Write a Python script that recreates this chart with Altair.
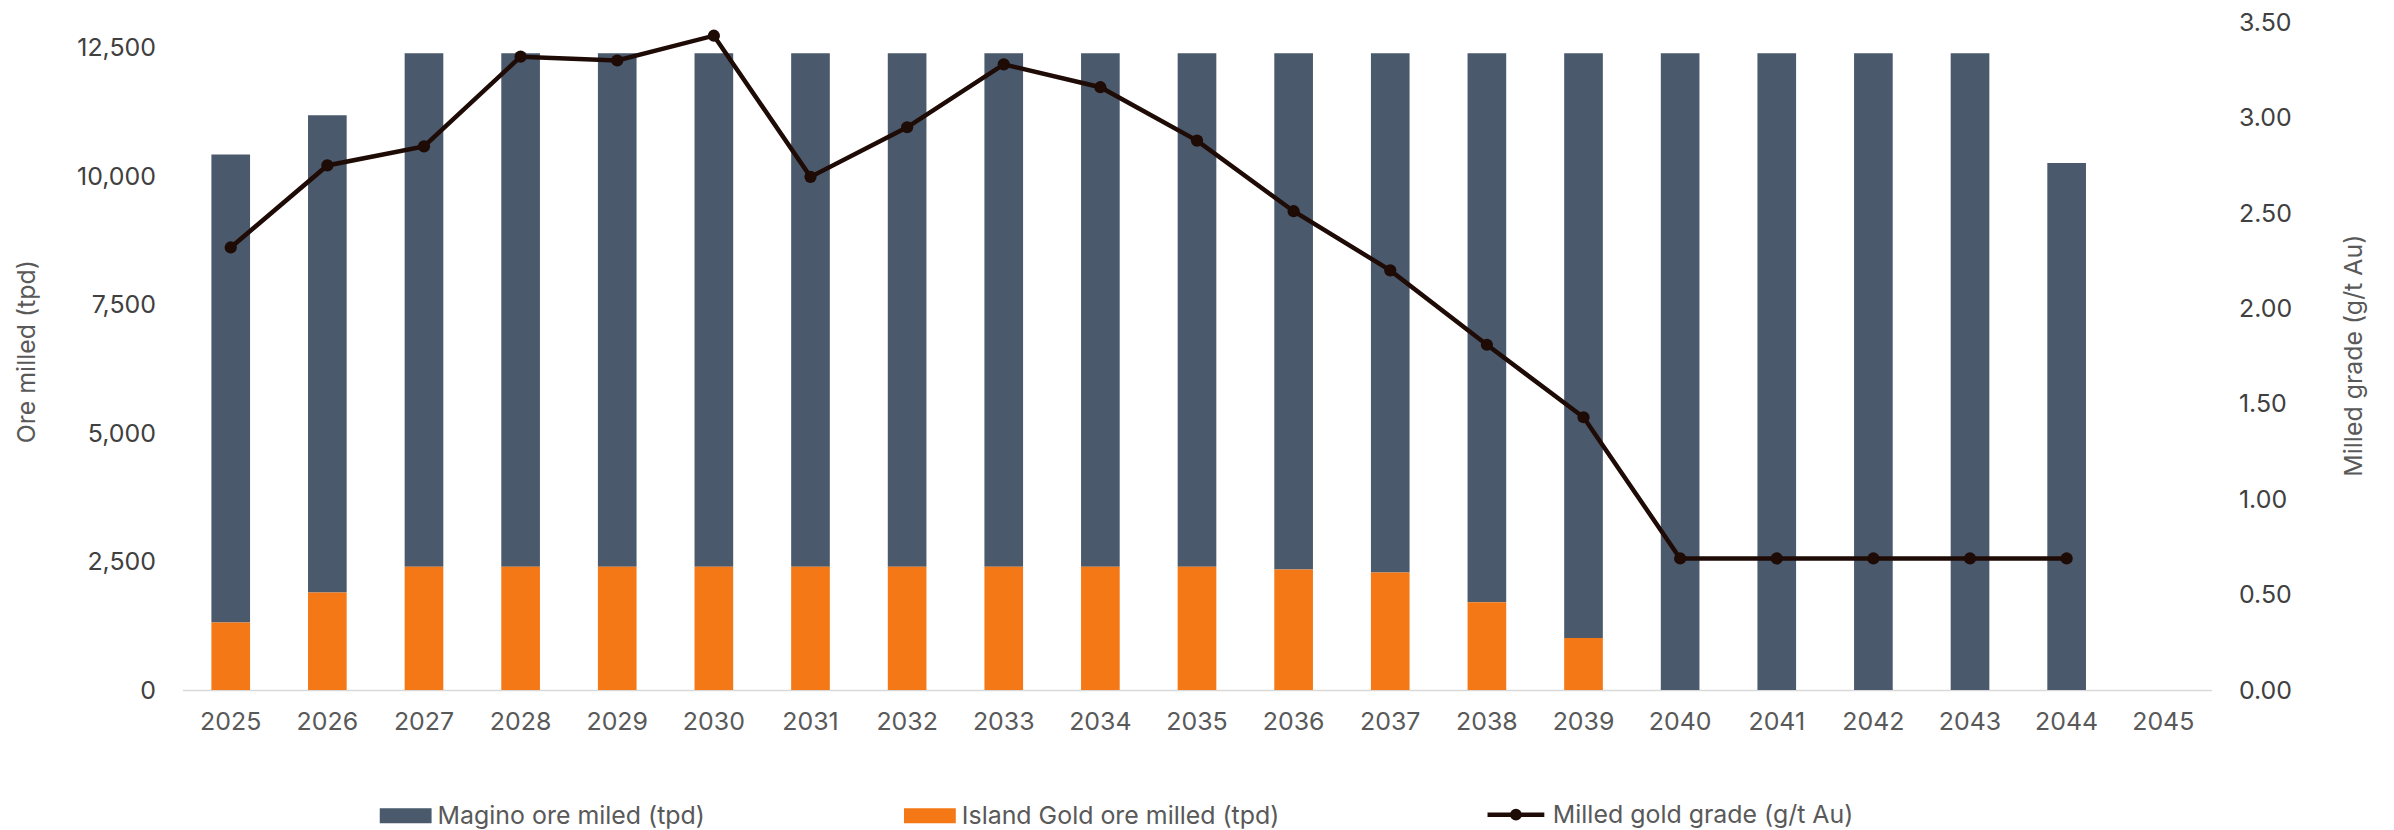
import altair as alt
import pandas as pd

# ---- data ----
years = ["2025", "2026", "2027", "2028", "2029", "2030", "2031", "2032", "2033", "2034",
         "2035", "2036", "2037", "2038", "2039", "2040", "2041", "2042", "2043", "2044", "2045"]
bar_years = ["2025", "2026", "2027", "2028", "2029", "2030", "2031", "2032", "2033", "2034",
             "2035", "2036", "2037", "2038", "2039", "2040", "2041", "2042", "2043", "2044"]
magino = [9110, 9290, 10000, 10000, 10000, 10000, 10000, 10000, 10000, 10000,
          10000, 10050, 10110, 10690, 11385, 12400, 12400, 12400, 12400, 10260]
island = [1315, 1900, 2400, 2400, 2400, 2400, 2400, 2400, 2400, 2400,
          2400, 2350, 2290, 1710, 1015, 0, 0, 0, 0, 0]
grade = [2.32, 2.75, 2.85, 3.32, 3.30, 3.43, 2.69, 2.95, 3.28, 3.16,
         2.88, 2.51, 2.20, 1.81, 1.43, 0.69, 0.69, 0.69, 0.69, 0.69]
left_ticks = [0, 2500, 5000, 7500, 10000, 12500]
right_ticks = [0, 0.5, 1.0, 1.5, 2.0, 2.5, 3.0, 3.5]

MAG = "Magino ore miled (tpd)"
ISL = "Island Gold ore milled (tpd)"
LINE = "Milled gold grade (g/t Au)"

rows = []
for y, m, i in zip(bar_years, magino, island):
    rows.append({"year": y, "series": MAG, "value": m, "order": 1})
    rows.append({"year": y, "series": ISL, "value": i, "order": 0})
bars_df = pd.DataFrame(rows)
line_df = pd.DataFrame({"year": bar_years, "grade": grade, "series": LINE})

FONT = "Inter"
FS = 25
xscale = alt.Scale(domain=years, paddingInner=0.6, paddingOuter=0.3)
xaxis = alt.Axis(title=None, labelAngle=0, ticks=False, domainColor="#D9D9D9", domainWidth=1.5,
                 labelColor="#595959", labelFontSize=FS, labelFont=FONT, labelPadding=20,
                 grid=False)

bars = alt.Chart(bars_df).mark_bar().encode(
    x=alt.X("year:N", scale=xscale, axis=xaxis),
    y=alt.Y("value:Q", stack="zero",
            scale=alt.Scale(domain=[0, 13000], nice=False),
            axis=alt.Axis(orient="left", values=left_ticks, format=",.0f", grid=False, domain=False,
                          ticks=False, labelColor="#404040", labelFontSize=FS, labelFont=FONT,
                          labelPadding=27, title="Ore milled (tpd)", titleFont=FONT,
                          titleFontSize=FS, titleFontWeight="normal", titleColor="#595959",
                          titleAngle=270, titleX=-156, titleY=330, titleBaseline="middle")),
    color=alt.Color("series:N",
                    scale=alt.Scale(domain=[MAG, ISL], range=["#4A596C", "#F47815"]),
                    legend=alt.Legend(title=None, orient="none", legendX=198, legendY=770,
                                      direction="horizontal",
                                      symbolType="M-1,-0.288H1V0.288H-1Z", symbolSize=2704,
                                      symbolStrokeWidth=0,
                                      labelFontSize=FS, labelFont=FONT, labelColor="#595959",
                                      labelOffset=6, columnPadding=199, padding=0,
                                      labelLimit=600)),
    order=alt.Order("order:Q", sort="ascending"),
)

line = alt.Chart(line_df).mark_line(
    strokeWidth=4.5,
    point=alt.OverlayMarkDef(filled=True, size=150, strokeWidth=1.5),
).encode(
    x=alt.X("year:N", scale=xscale, axis=xaxis),
    y=alt.Y("grade:Q", scale=alt.Scale(domain=[0, 3.5], nice=False),
            axis=alt.Axis(orient="right", values=right_ticks, format=".2f", grid=False,
                          domain=False, ticks=False, labelColor="#404040", labelFontSize=FS,
                          labelFont=FONT, labelPadding=27, title="Milled grade (g/t Au)",
                          titleFont=FONT, titleFontSize=FS, titleFontWeight="normal",
                          titleColor="#595959", titleAngle=270, titleX=142, titleY=334,
                          titleBaseline="middle")),
    color=alt.Color("series:N", scale=alt.Scale(domain=[LINE], range=["#1E0B06"]),
                    legend=alt.Legend(title=None, orient="none", legendX=1307, legendY=764,
                                      direction="horizontal",
                                      symbolType="M-1,0H1M0.13,0A0.13,0.13 0 1,1 -0.13,0A0.13,0.13 0 1,1 0.13,0M0.06,0A0.06,0.06 0 1,1 -0.06,0A0.06,0.06 0 1,1 0.06,0",
                                      symbolSize=3249, symbolStrokeWidth=4.5,
                                      symbolFillColor="#1E0B06", symbolStrokeColor="#1E0B06",
                                      labelFontSize=FS, labelFont=FONT, labelColor="#595959",
                                      labelOffset=6, padding=0, labelLimit=600)),
)

chart = alt.layer(bars, line).resolve_scale(
    y="independent", color="independent"
).properties(
    width=2036, height=670,
    autosize=alt.AutoSizeParams(type="none"),
    padding={"left": 175, "top": 13, "right": 175, "bottom": 140},
    background="white",
).configure_view(stroke=None)

chart.save("out.html", embed_options={"renderer": "svg", "actions": False})
